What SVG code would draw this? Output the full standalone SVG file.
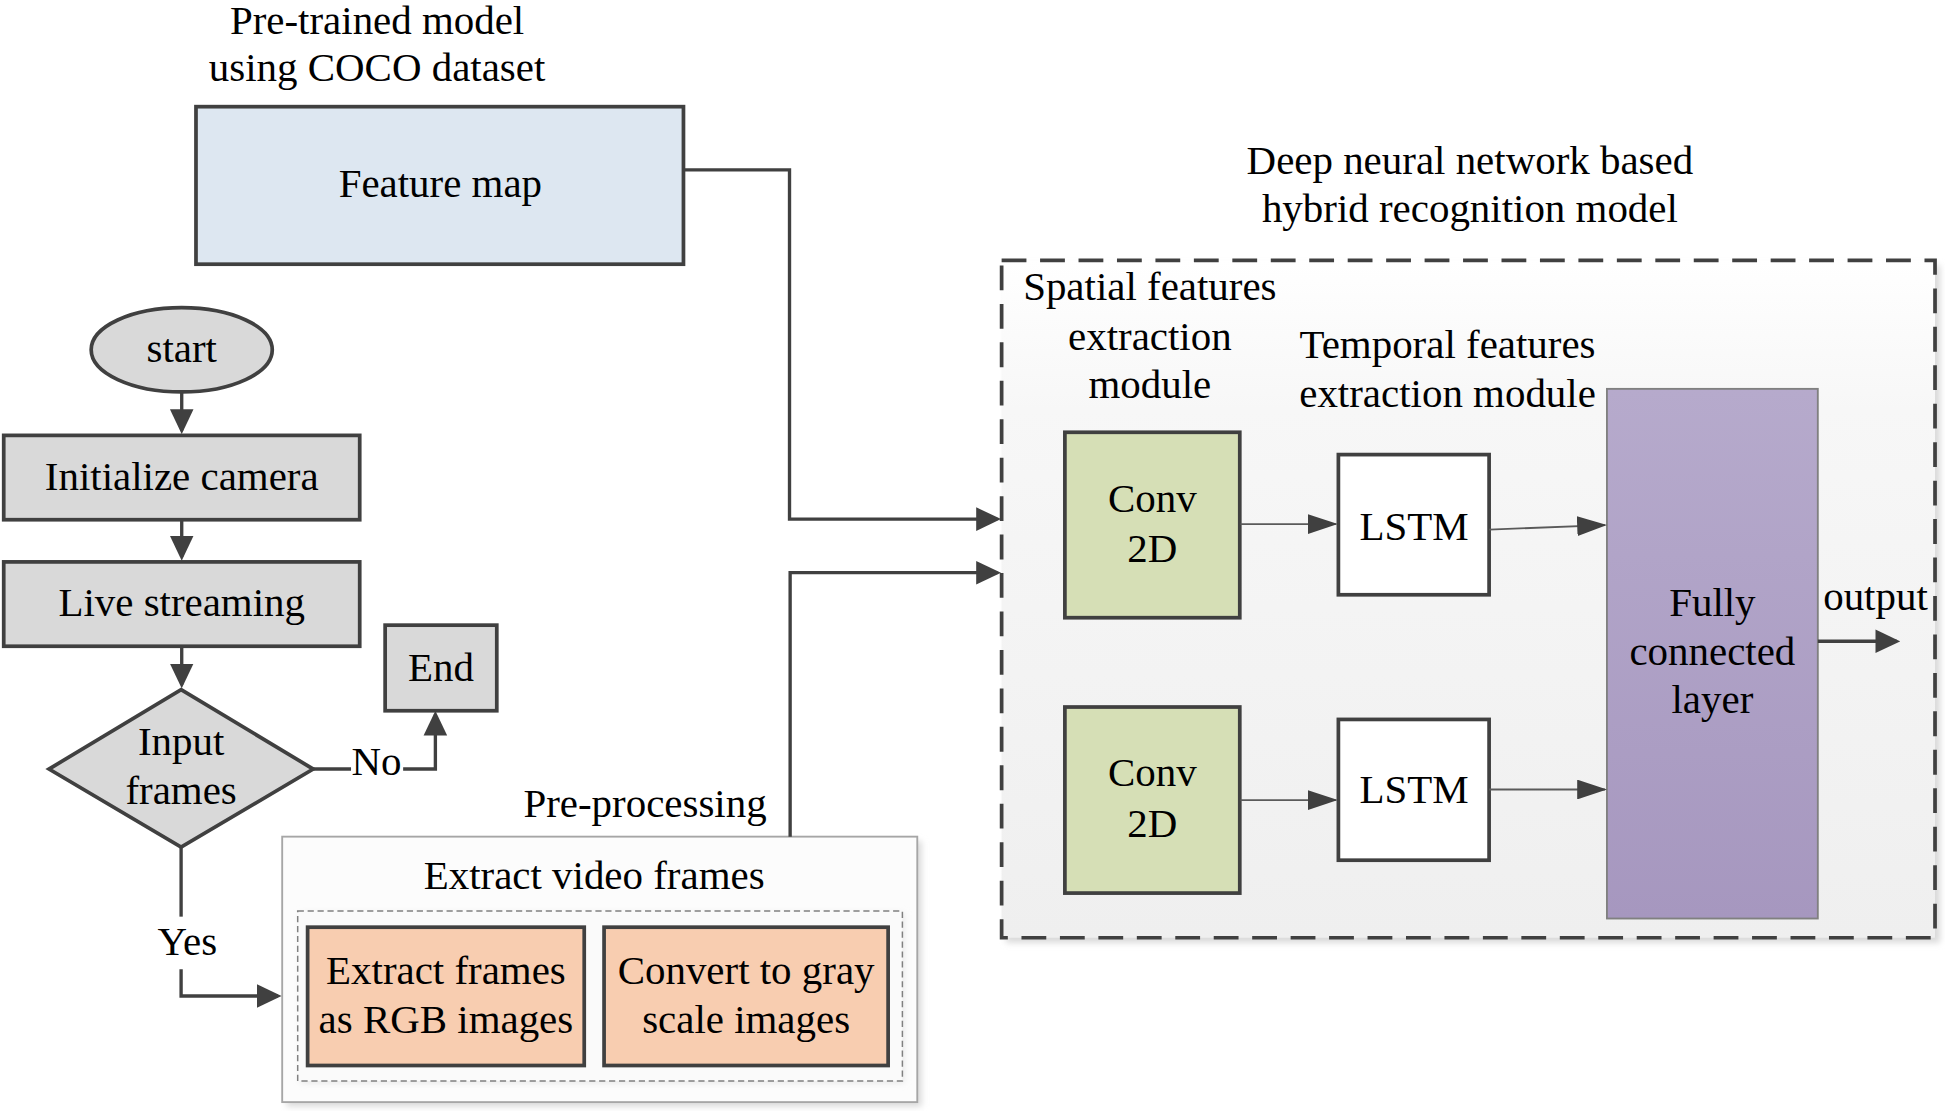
<svg xmlns="http://www.w3.org/2000/svg" width="1945" height="1111" viewBox="0 0 1945 1111">
<defs>
<style>
text { font-family: "Liberation Serif", "Times New Roman", serif; font-size: 33px; fill: #000; text-anchor: middle; }
.box { stroke: #404040; stroke-width: 3; }
.gray { fill: #d9d9d9; }
.orange { fill: #f8cdb0; }
.conv { fill: #d6dfb6; }
.lstm { fill: #ffffff; }
.conn { fill: none; stroke: #404040; stroke-width: 2.7; }
.thin { fill: none; stroke: #5a5a5a; stroke-width: 1.5; }
</style>
<marker id="ah" markerUnits="userSpaceOnUse" markerWidth="20" markerHeight="20" refX="17" refY="10" orient="auto">
<path d="M0,0.5 L20,10 L0,19.5 Z" fill="#404040"/>
</marker>
<marker id="aht" markerUnits="userSpaceOnUse" markerWidth="24" markerHeight="16" refX="22.5" refY="8" orient="auto">
<path d="M0,0 L24,8 L0,16 Z" fill="#404040"/>
</marker>
<linearGradient id="bgGrad" x1="0" y1="0" x2="0" y2="1">
<stop offset="0" stop-color="#ffffff"/>
<stop offset="0.22" stop-color="#f7f7f7"/>
<stop offset="1" stop-color="#efefef"/>
</linearGradient>
<linearGradient id="fcGrad" x1="0" y1="0" x2="0" y2="1">
<stop offset="0" stop-color="#b6aacc"/>
<stop offset="1" stop-color="#a697bf"/>
</linearGradient>
<filter id="shadow" x="-5%" y="-5%" width="115%" height="115%">
<feGaussianBlur stdDeviation="2.5"/>
</filter>
</defs>
<rect width="1945" height="1111" fill="#ffffff"/>
<g transform="scale(1.2404)">

<!-- Titles -->
<g id="title-pretrained">
<text x="304" y="27">Pre-trained model</text>
<text x="304" y="65">using COCO dataset</text>
</g>
<g id="title-dnn">
<text x="1185" y="140">Deep neural network based</text>
<text x="1185" y="179">hybrid recognition model</text>
</g>

<!-- Feature map -->
<g id="feature-map">
<rect x="158" y="86" width="393" height="127" fill="#dde7f1" class="box"/>
<text x="355" y="159">Feature map</text>
</g>

<!-- Flowchart -->
<g id="start">
<ellipse cx="146.5" cy="282" rx="73" ry="34" class="box gray"/>
<text x="146.5" y="292">start</text>
</g>
<g id="init-camera">
<rect x="3" y="351" width="287" height="68" class="box gray"/>
<text x="146.5" y="395">Initialize camera</text>
</g>
<g id="live-streaming">
<rect x="3" y="453" width="287" height="68" class="box gray"/>
<text x="146.5" y="497">Live streaming</text>
</g>
<g id="input-frames">
<polygon points="146,556 252.5,620 146,683 39.5,620" class="box gray"/>
<text x="146" y="609">Input</text>
<text x="146" y="648">frames</text>
</g>
<g id="end">
<rect x="310.5" y="504" width="90" height="69" class="box gray"/>
<text x="355.5" y="549">End</text>
</g>

<!-- Pre-processing -->
<g id="pre-processing">
<rect x="231" y="678" width="512" height="214" fill="#d9d9d9" filter="url(#shadow)"/>
<rect x="227.5" y="674.5" width="512" height="214" fill="#fcfcfc" stroke="#a6a6a6" stroke-width="1.5"/>
<text x="520" y="659">Pre-processing</text>
<text x="479" y="717">Extract video frames</text>
<rect x="242" y="736" width="487" height="137" fill="#e8e8e8" filter="url(#shadow)"/>
<rect x="240" y="734.5" width="487.5" height="137" fill="#fafafa" stroke="#808080" stroke-width="1.2" stroke-dasharray="5,3"/>
</g>
<g id="extract-rgb">
<rect x="248" y="747.5" width="223" height="111.5" class="box orange"/>
<text x="359.5" y="793">Extract frames</text>
<text x="359.5" y="833">as RGB images</text>
</g>
<g id="convert-gray">
<rect x="487" y="747.5" width="229" height="111.5" class="box orange"/>
<text x="601.5" y="793">Convert to gray</text>
<text x="601.5" y="833">scale images</text>
</g>

<!-- Hybrid model container -->
<g id="hybrid-model">
<rect x="811" y="214" width="753" height="546" fill="#d9d9d9" filter="url(#shadow)"/>
<rect x="807.5" y="210" width="752.5" height="546" fill="url(#bgGrad)" stroke="#404040" stroke-width="3" stroke-dasharray="20,11"/>
<text x="927" y="242">Spatial features</text>
<text x="927" y="282">extraction</text>
<text x="927" y="321">module</text>
<text x="1167" y="289">Temporal features</text>
<text x="1167" y="328">extraction module</text>
</g>
<g id="conv2d-1">
<rect x="858.5" y="348.5" width="141" height="149.5" class="box conv"/>
<text x="929" y="413">Conv</text>
<text x="929" y="453">2D</text>
</g>
<g id="conv2d-2">
<rect x="858.5" y="570" width="141" height="150" class="box conv"/>
<text x="929" y="634">Conv</text>
<text x="929" y="674.5">2D</text>
</g>
<g id="lstm-1">
<rect x="1079" y="366.5" width="121.5" height="113" class="box lstm"/>
<text x="1140" y="435">LSTM</text>
</g>
<g id="lstm-2">
<rect x="1079" y="580" width="121.5" height="113.5" class="box lstm"/>
<text x="1140" y="647">LSTM</text>
</g>
<g id="fully-connected">
<rect x="1295.5" y="313.5" width="170" height="427" fill="url(#fcGrad)" stroke="#808080" stroke-width="1.5"/>
<text x="1380.5" y="497">Fully</text>
<text x="1380.5" y="536">connected</text>
<text x="1380.5" y="575">layer</text>
</g>
<g id="output-label">
<text x="1512" y="492">output</text>
</g>

<!-- Connectors -->
<g id="connectors">
<path class="conn" d="M551,137 H636.5 V418.5 H804" marker-end="url(#ah)"/>
<path class="conn" d="M637,674.5 V461.7 H804" marker-end="url(#ah)"/>
<path class="conn" d="M146.5,316 V347" marker-end="url(#ah)"/>
<path class="conn" d="M146.5,419 V449" marker-end="url(#ah)"/>
<path class="conn" d="M146.5,521 V552" marker-end="url(#ah)"/>
<path class="conn" d="M252.5,620 H283"/>
<text x="303.5" y="625">No</text>
<path class="conn" d="M325,620 H351 V576" marker-end="url(#ah)"/>
<path class="conn" d="M146,683 V739"/>
<text x="151" y="770">Yes</text>
<path class="conn" d="M146,781.5 V803 H224" marker-end="url(#ah)"/>
<path class="conn" d="M1465.5,517 H1529" marker-end="url(#ah)"/>
<path class="thin" d="M1000,422.5 H1077" marker-end="url(#aht)"/>
<path class="thin" d="M1200.5,427 L1294,423.3" marker-end="url(#aht)"/>
<path class="thin" d="M1000,645 H1077" marker-end="url(#aht)"/>
<path class="thin" d="M1200.5,636.5 H1294" marker-end="url(#aht)"/>
</g>
</g>
</svg>
